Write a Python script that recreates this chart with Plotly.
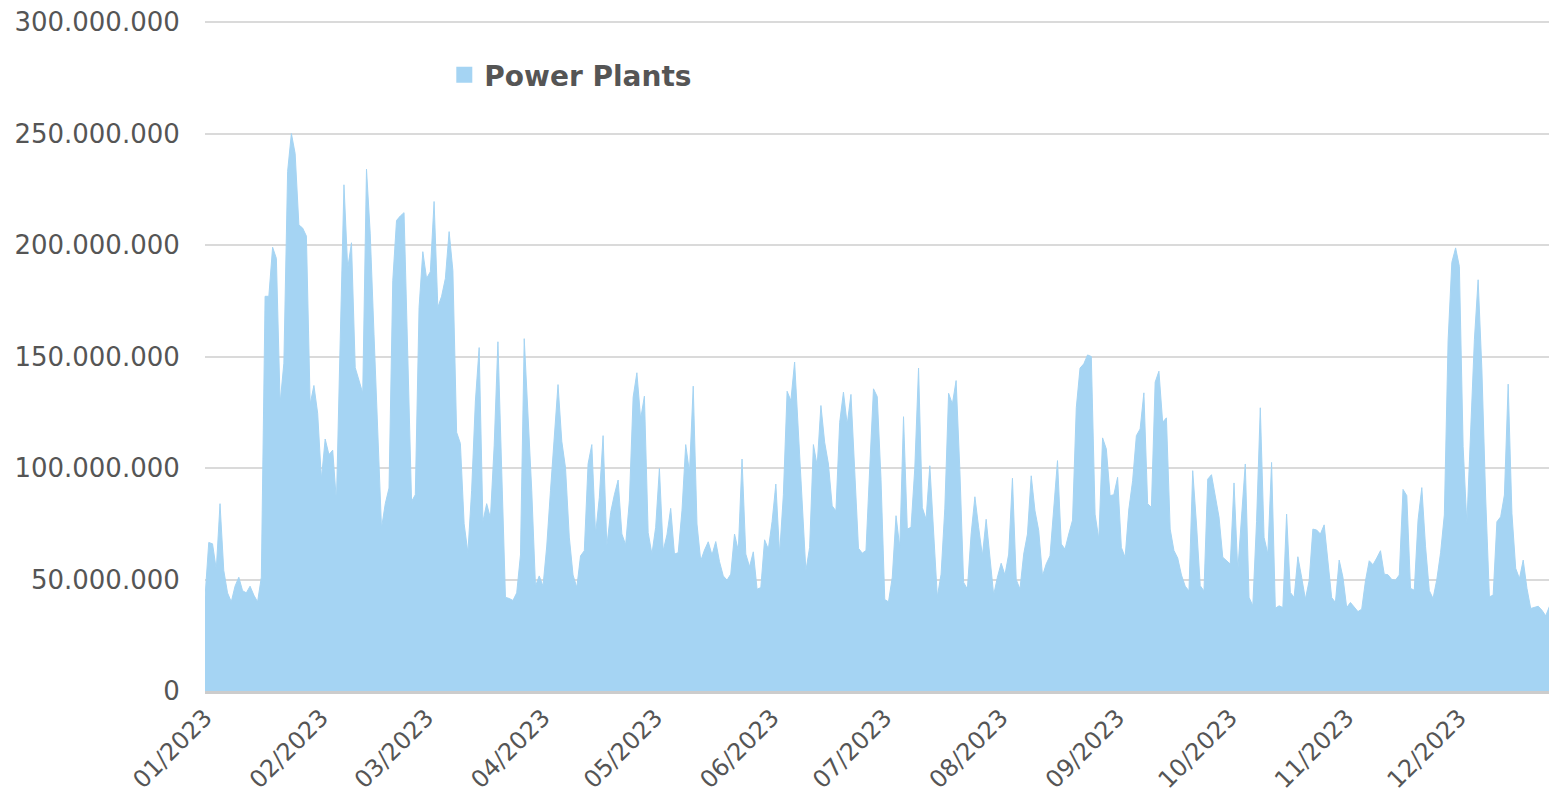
import plotly.graph_objects as go
import pandas as pd

START_DATE = "2023-01-01"
SERIES_NAME = "Power Plants"

# daily values in millions
values_millions = [
    42, 66.6, 66, 54.6, 84, 54, 44, 40, 47, 51,
    45, 44, 47, 43, 40, 51, 177, 177, 199, 194,
    129, 147, 233, 250, 241, 209, 207.6, 204, 128.6, 137,
    124.5, 95, 113, 106, 108, 85, 157, 227, 189.5, 201,
    145, 139, 133.6, 234, 205, 160, 115, 73, 84, 91,
    184, 211, 213, 214.5, 150, 85, 88, 172, 197, 185,
    188, 219.5, 172, 177, 185, 206, 188.6, 116, 111, 75,
    62, 90, 130, 154, 76, 84, 77.6, 110, 156.6, 100,
    42, 41.5, 40.6, 44, 61, 158, 125, 90, 47, 51.6,
    47, 65, 90, 115, 137.4, 112, 100, 69, 52, 46.4,
    60.6, 62.9, 101.8, 110.5, 70.4, 86.8, 114.5, 65, 80, 88,
    94.6, 70.4, 65.6, 85.3, 131.7, 142.7, 122, 132.2, 71, 61.4,
    73.4, 99.8, 62.9, 70, 81.9, 61.4, 62, 80.8, 110.5, 98,
    136.7, 74.9, 58.4, 63.2, 66.9, 61, 67, 58, 51.6, 49.7,
    52.4, 70.4, 62.9, 104, 61.4, 55.7, 62.4, 45.6, 46.4, 67.8,
    63.6, 76, 92.8, 61.4, 88, 134.4, 130.2, 147.5, 115, 84,
    53.9, 64.4, 110.5, 101, 128, 111.5, 101.8, 83, 80.8, 120.5,
    134, 119.5, 133, 98.8, 64, 61.8, 63, 100, 135.5, 132,
    95, 41, 40, 51, 78.6, 64.4, 123, 72.6, 73.4, 100,
    144.8, 82.3, 77, 101, 69, 42.2, 52.4, 82, 133.5, 128.7,
    139.2, 98.8, 48.7, 45.7, 70.4, 87.1, 73.4, 60.6, 77, 58.4,
    43.1, 51, 57.3, 52, 61.4, 95.4, 50, 45.7, 61.4, 70.4,
    96.5, 80.8, 71.9, 51.6, 57, 60.6, 80.8, 103.3, 65.9, 63.6,
    70.4, 76.6, 127, 144.8, 146.7, 150.7, 150, 79.3, 68, 113.5,
    108.5, 87.6, 88, 95.8, 64.4, 59.9, 81.6, 94.3, 114.5, 117.5,
    133.7, 84, 82.3, 138.5, 143.4, 120.5, 122.5, 72.6, 63, 59.6,
    52, 47, 44.9, 98.8, 74.9, 47.2, 44.9, 95, 97, 86.8,
    78, 60, 58.4, 56.9, 93.3, 53.9, 78, 101.8, 42, 38.2,
    76, 127, 68.9, 61.4, 102.5, 37.1, 38.2, 37.4, 79.3, 44.2,
    41.9, 60.2, 51, 41.2, 49.4, 72.6, 72.2, 70.4, 74.5, 58.4,
    41.9, 39.7, 58.7, 51, 37.4, 39.7, 37.4, 35.6, 36.7, 49.4,
    58.4, 56.6, 59.6, 62.9, 52.4, 52.1, 50, 49.7, 52, 90.4,
    87.6, 46, 45.2, 76.6, 91.2, 64.7, 45, 41.5, 50, 62,
    78.9, 157, 192.2, 198.7, 190.4, 109.6, 75.1, 120, 157.5, 184.4,
    144, 87, 42.2, 43, 75.9, 78.1, 87.9, 137.6, 79.6, 55,
    50.4, 58.7, 46, 37, 37.5, 38, 36.2, 33.7, 38, 44.5, 44.2,
]

y_ticks = [0, 50_000_000, 100_000_000, 150_000_000, 200_000_000, 250_000_000, 300_000_000]
Y_MAX = 300_000_000

dates = pd.date_range(START_DATE, periods=len(values_millions), freq="D")
values = [v * 1_000_000 for v in values_millions]

FILL = "#A5D4F3"
TEXT = "#555555"
FONT = "DejaVu Sans"

fig = go.Figure()
fig.add_trace(go.Scatter(
    x=dates, y=values, name=SERIES_NAME,
    mode="lines", fill="tozeroy",
    line=dict(color=FILL, width=1),
    fillcolor=FILL,
    hoverinfo="x+y",
    showlegend=False,
    legendgroup="pp",
))
# legend entry with a square symbol (legend only)
fig.add_trace(go.Scatter(
    x=[None], y=[None], name=SERIES_NAME,
    mode="markers",
    marker=dict(symbol="square", size=17, color=FILL),
    showlegend=True,
    legendgroup="pp",
))

# plot area: 671 px tall, top gridline (300M) 2 px below its top edge
fig.update_layout(
    width=1549, height=787,
    margin=dict(l=197, r=0, t=12, b=104, pad=0),
    paper_bgcolor="white", plot_bgcolor="white",
    separators=",.",
    font=dict(family=FONT, color=TEXT, size=26),
    showlegend=True,
    legend=dict(
        orientation="h", x=0.177, y=0.918, xanchor="left", yanchor="middle",
        font=dict(family=FONT, size=28, color=TEXT, weight="bold"),
        bgcolor="rgba(0,0,0,0)", itemwidth=30,
    ),
    xaxis=dict(
        type="date",
        range=[dates[0], dates[-1]],
        dtick="M1", tick0=START_DATE, tickformat="%m/%Y",
        tickangle=-45,
        tickfont=dict(family=FONT, size=24, color=TEXT),
        showgrid=False, zeroline=False,
        showline=True, linecolor="#CCCCCC", linewidth=3,
        ticks="",
    ),
    yaxis=dict(
        range=[0, Y_MAX * 671 / 669],
        tickvals=y_ticks, tickformat=",d",
        tickfont=dict(family=FONT, size=26, color=TEXT),
        ticklabeloverflow="allow",
        showgrid=True, gridcolor="#DADADA", gridwidth=2,
        zeroline=False, showline=False,
        ticks="outside", ticklen=19, tickcolor="rgba(0,0,0,0)",
    ),
)

fig.write_html("out.html")
